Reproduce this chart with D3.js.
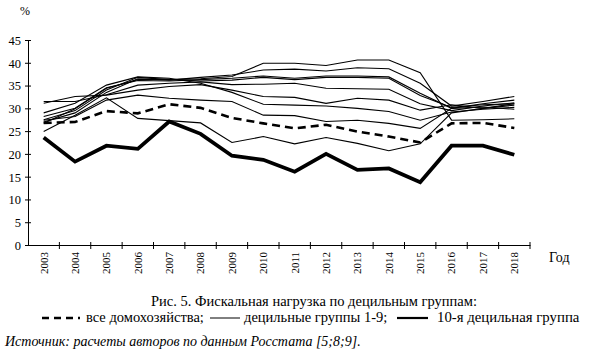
<!DOCTYPE html>
<html><head><meta charset="utf-8">
<script src="https://d3js.org/d3.v7.min.js"></script>
<style>
body{margin:0;background:#fff;}
</style></head>
<body>
<svg id="c" width="590" height="355" style="font-family:'Liberation Serif','DejaVu Serif',serif"></svg>
<script>
const years = ["2003","2004","2005","2006","2007","2008","2009","2010","2011","2012","2013","2014","2015","2016","2017","2018"];
const yTicks = [0,5,10,15,20,25,30,35,40,45];
// all households (dashed)
const allHouseholds = [26.8,27.0,29.4,28.9,30.9,30.1,27.9,26.7,25.6,26.4,24.9,23.8,22.5,26.7,26.8,25.7];
// 10th decile (thick)
const decile10 = [23.6,18.3,21.8,21.1,27.1,24.4,19.6,18.7,16.1,20.0,16.5,16.8,13.8,21.8,21.8,19.8];
// deciles 1-9 (thin)
const dec1 = [27.5,29.5,34.0,36.8,36.3,36.5,37.0,39.9,39.9,39.4,40.6,40.6,37.8,27.4,27.5,27.7];
const dec2 = [27.0,29.0,33.5,36.5,36.2,36.8,37.3,38.4,38.6,38.2,38.9,38.7,35.5,30.5,31.5,32.6];
const dec3 = [28.2,30.0,34.5,36.1,36.0,36.3,36.6,37.1,36.6,37.1,37.1,36.9,33.3,30.0,31.0,31.8];
const dec4 = [31.5,31.5,33.0,35.1,35.5,35.8,35.2,35.3,35.5,34.4,34.3,34.2,31.0,29.5,30.5,31.2];
const dec5 = [31.1,32.6,32.9,34.0,34.8,35.2,34.0,32.6,32.4,31.1,32.2,31.8,29.6,30.8,30.0,30.7];
const dec6 = [29.0,31.1,35.1,36.9,36.6,35.5,33.5,30.9,30.7,30.5,30.0,29.3,27.4,29.2,29.8,30.2];
const dec7 = [27.4,28.2,31.8,32.9,32.2,31.8,31.5,28.5,28.4,27.1,27.4,26.7,25.6,30.0,30.3,29.8];
const dec8 = [24.9,28.5,32.3,27.8,27.3,26.8,22.5,23.8,22.2,23.6,22.3,20.7,22.2,29.0,30.0,31.0];
const dec9 = [26.7,29.9,34.4,36.3,36.4,36.0,36.2,36.8,36.3,36.8,36.8,36.6,32.8,30.2,30.8,31.0];
const deciles = [dec1,dec2,dec3,dec4,dec5,dec6,dec7,dec8,dec9];

const FONT = "'Liberation Serif','DejaVu Serif',serif";
const svg = d3.select("#c");
const x = d3.scaleBand().domain(years).range([28,530]).padding(0);
const y = d3.scaleLinear().domain([0,45]).range([245,40]);

// Y axis
const ya = svg.append("g").attr("transform","translate(28,0)")
  .call(d3.axisLeft(y).tickValues(yTicks).tickSize(3).tickSizeOuter(0));
ya.attr("font-family",FONT).attr("font-size",12.5);
ya.select(".domain").attr("stroke","#000").attr("stroke-width",1);
ya.selectAll(".tick line").attr("x1",-3).attr("x2",3).attr("stroke","#000");
ya.selectAll(".tick text").attr("x",-7).attr("fill","#000").attr("dy","0.35em");

// X axis
const xa = svg.append("g").attr("transform","translate(0,245)")
  .call(d3.axisBottom(x).tickSize(0).tickSizeOuter(0));
xa.attr("font-family",FONT).attr("font-size",11);
xa.select(".domain").attr("stroke","#000").attr("stroke-width",1);
xa.selectAll(".tick text")
  .attr("fill","#000")
  .attr("transform","rotate(-90)")
  .attr("text-anchor","end")
  .attr("x",-7).attr("y",0).attr("dy","0.35em");
svg.append("g").selectAll("line").data(years).join("line")
  .attr("x1",d=>x(d)+x.bandwidth()).attr("x2",d=>x(d)+x.bandwidth())
  .attr("y1",242).attr("y2",249).attr("stroke","#000").attr("stroke-width",1);

const line = d3.line().x((d,i)=>x(years[i])+x.bandwidth()/2).y(d=>y(d));

svg.append("g").selectAll("path").data(deciles).join("path")
  .attr("d",line).attr("fill","none").attr("stroke","#000").attr("stroke-width",1.1);
svg.append("path").datum(allHouseholds).attr("d",line).attr("fill","none")
  .attr("stroke","#000").attr("stroke-width",2.6).attr("stroke-dasharray","8,5");
svg.append("path").datum(decile10).attr("d",line).attr("fill","none")
  .attr("stroke","#000").attr("stroke-width",3.8).attr("stroke-linejoin","miter");

function txt(xp, yp, s, size, opts={}) {
  const t = svg.append("text").attr("x",xp).attr("y",yp)
    .attr("font-family",FONT).attr("font-size",size).attr("fill","#000").text(s);
  if (opts.anchor) t.attr("text-anchor",opts.anchor);
  if (opts.italic) t.attr("font-style","italic");
  return t;
}
txt(20,15,"%",12);
txt(549,262,"Год",14);
txt(314,306,"Рис. 5. Фискальная нагрузка по децильным группам:",14.5,{anchor:"middle"});
const ly = 322;
svg.append("line").attr("x1",42).attr("x2",80).attr("y1",ly-4).attr("y2",ly-4)
  .attr("stroke","#000").attr("stroke-width",2.4).attr("stroke-dasharray","7,5");
txt(86,ly,"все домохозяйства;",14.5);
svg.append("line").attr("x1",210).attr("x2",240).attr("y1",ly-4).attr("y2",ly-4)
  .attr("stroke","#000").attr("stroke-width",1);
txt(244,ly,"децильные группы 1-9;",14.5);
svg.append("line").attr("x1",397).attr("x2",428).attr("y1",ly-4).attr("y2",ly-4)
  .attr("stroke","#000").attr("stroke-width",2.2);
txt(437,ly,"10-я децильная группа",14.8);
txt(5,346,"Источник: расчеты авторов по данным Росстата [5;8;9].",14,{italic:true});
</script>
</body></html>
